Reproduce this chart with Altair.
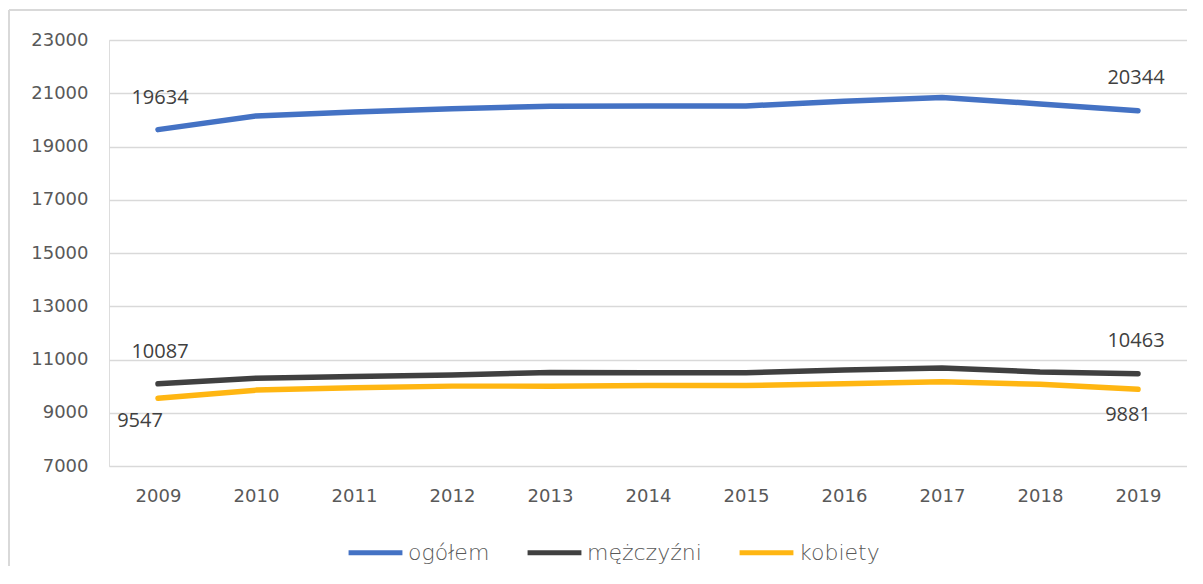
import altair as alt
import pandas as pd

years = [2009, 2010, 2011, 2012, 2013, 2014, 2015, 2016, 2017, 2018, 2019]
ogolem = [19634, 20150, 20300, 20420, 20515, 20525, 20525, 20700, 20840, 20600, 20344]
mezczyzni = [10087, 10300, 10360, 10420, 10515, 10505, 10505, 10610, 10680, 10530, 10463]
kobiety = [9547, 9850, 9940, 10000, 10000, 10020, 10020, 10090, 10160, 10070, 9881]

series_names = ["ogółem", "mężczyźni", "kobiety"]
series_colors = ["#4472C4", "#404040", "#FFB612"]
y_ticks = [7000, 9000, 11000, 13000, 15000, 17000, 19000, 21000, 23000]

rows = []
for name, vals in zip(series_names, [ogolem, mezczyzni, kobiety]):
    for yr, v in zip(years, vals):
        rows.append({"rok": str(yr), "seria": name, "wartosc": v})
df = pd.DataFrame(rows)

# labelled points: first and last year of every series
lab = df[df["rok"].isin(["2009", "2019"])].copy()

FONT_AX = "DejaVu Sans"
FONT_LAB = "Open Sans"

x_enc = alt.X("rok:N", sort=[str(y) for y in years],
              scale=alt.Scale(type="point", padding=0.5),
              axis=alt.Axis(title=None, domain=False, ticks=False, grid=False,
                            labelFont=FONT_AX, labelFontSize=18, labelColor="#595959",
                            labelPadding=21, labelAngle=0))
y_enc = alt.Y("wartosc:Q",
              scale=alt.Scale(domain=[7000, 23000], nice=False, zero=False),
              axis=alt.Axis(title=None, domain=False, ticks=False, values=y_ticks,
                            grid=True, gridColor="#D9D9D9", gridWidth=1.5,
                            labelFont=FONT_AX, labelFontSize=18, labelColor="#595959",
                            labelPadding=21, format="d"))

color_enc = alt.Color("seria:N",
                      scale=alt.Scale(domain=series_names, range=series_colors),
                      legend=alt.Legend(title=None, orient="none", direction="horizontal",
                                        legendX=237, legendY=483,
                                        symbolType="stroke", symbolSize=2900,
                                        symbolStrokeWidth=5, labelFont="DejaVu Sans",
                                        labelFontSize=22, labelFontWeight=300,
                                        labelColor="#595959",
                                        labelOffset=3, columnPadding=27))

base = alt.Chart(df)
lines = base.mark_line(strokeWidth=5.5, strokeCap="round", strokeJoin="round").encode(
    x=x_enc, y=y_enc, color=color_enc)

def label_layer(rok, seria_list, dx, dy):
    sub = lab[(lab["rok"] == rok) & (lab["seria"].isin(seria_list))]
    return alt.Chart(sub).mark_text(font=FONT_LAB, fontSize=20, color="#404040",
                                    dx=dx, dy=dy, align="center", baseline="middle").encode(
        x=alt.X("rok:N", sort=[str(y) for y in years]),
        y=alt.Y("wartosc:Q"),
        text=alt.Text("wartosc:Q", format="d"))

labels = [
    label_layer("2009", ["ogółem", "mężczyźni"], 2, -32),
    label_layer("2019", ["ogółem", "mężczyźni"], -2, -33),
    label_layer("2009", ["kobiety"], -18, 23),
    label_layer("2019", ["kobiety"], -10, 26),
]

frame_top = alt.Chart(pd.DataFrame({"k": [0]})).mark_rule(color="#D9D9D9", strokeWidth=2).encode(
    x=alt.value(-100), x2=alt.value(1090), y=alt.value(-30))
frame_left = alt.Chart(pd.DataFrame({"k": [0]})).mark_rule(color="#D9D9D9", strokeWidth=2).encode(
    x=alt.value(-100), y=alt.value(-30), y2=alt.value(560))

chart = alt.layer(frame_top, frame_left, lines, *labels).properties(
    width=1078, height=426,
    autosize=alt.AutoSizeParams(type="none"),
    padding={"left": 101, "top": 32, "right": 0, "bottom": 100},
).configure_view(stroke=None).configure(background="white")

chart.save("out.html", embed_options={"renderer": "svg", "actions": False})
